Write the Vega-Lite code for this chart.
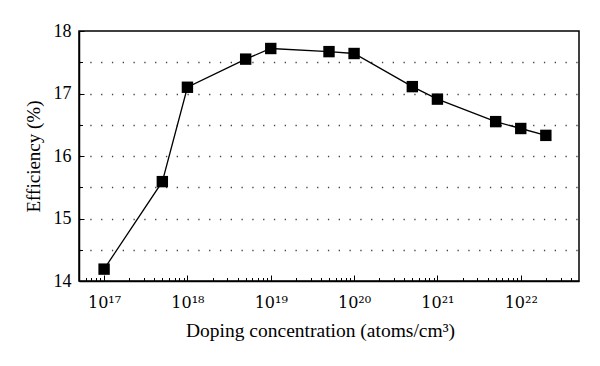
{
  "$schema": "https://vega.github.io/schema/vega-lite/v6.json",
  "width": 500,
  "height": 250,
  "autosize": "none",
  "padding": {"left": 79, "top": 31, "right": 21, "bottom": 85},
  "background": "white",
  "config": {
    "view": {"stroke": "black", "strokeWidth": 1.5},
    "font": "Liberation Serif"
  },
  "data": {
    "values": [
      {"conc": 1e17, "eff": 14.19},
      {"conc": 5e17, "eff": 15.59},
      {"conc": 1e18, "eff": 17.10},
      {"conc": 5e18, "eff": 17.55},
      {"conc": 1e19, "eff": 17.72},
      {"conc": 5e19, "eff": 17.67},
      {"conc": 1e20, "eff": 17.64},
      {"conc": 5e20, "eff": 17.11},
      {"conc": 1e21, "eff": 16.91},
      {"conc": 5e21, "eff": 16.55},
      {"conc": 1e22, "eff": 16.44},
      {"conc": 2e22, "eff": 16.33}
    ]
  },
  "encoding": {
    "x": {
      "field": "conc",
      "type": "quantitative",
      "scale": {"type": "log", "domain": [5e16, 5e22], "nice": false},
      "axis": {
        "title": "Doping concentration (atoms/cm³)",
        "titleFont": "Liberation Serif",
        "titleFontSize": 19.5,
        "titleFontWeight": "normal",
        "titleColor": "black",
        "titlePadding": 9,
        "titleX": 241,
        "titleAnchor": "start",
        "titleAlign": "center",
        "labelFont": "DejaVu Serif",
        "labelFontSize": 16,
        "labelColor": "black",
        "labelPadding": 19,
        "labelFlush": false,
        "labelOverlap": false,
        "domainColor": "black",
        "domainWidth": 1.5,
        "tickColor": "black",
        "tickWidth": 1,
        "grid": false,
        "values": [6e16, 7e16, 8e16, 9e16,
          1e17, 2e17, 3e17, 4e17, 5e17, 6e17, 7e17, 8e17, 9e17,
          1e18, 2e18, 3e18, 4e18, 5e18, 6e18, 7e18, 8e18, 9e18,
          1e19, 2e19, 3e19, 4e19, 5e19, 6e19, 7e19, 8e19, 9e19,
          1e20, 2e20, 3e20, 4e20, 5e20, 6e20, 7e20, 8e20, 9e20,
          1e21, 2e21, 3e21, 4e21, 5e21, 6e21, 7e21, 8e21, 9e21,
          1e22, 2e22, 3e22, 4e22],
        "labelExpr": "datum.value == 1e17 ? '10¹⁷' : datum.value == 1e18 ? '10¹⁸' : datum.value == 1e19 ? '10¹⁹' : datum.value == 1e20 ? '10²⁰' : datum.value == 1e21 ? '10²¹' : datum.value == 1e22 ? '10²²' : ''",
        "tickSize": {
          "condition": {"test": "datum.value == 1e17 || datum.value == 1e18 || datum.value == 1e19 || datum.value == 1e20 || datum.value == 1e21 || datum.value == 1e22", "value": -6},
          "value": -3.5
        }
      }
    },
    "y": {
      "field": "eff",
      "type": "quantitative",
      "scale": {"domain": [14, 18], "nice": false, "zero": false},
      "axis": {
        "title": "Efficiency (%)",
        "titleFont": "Liberation Serif",
        "titleFontSize": 19,
        "titleFontWeight": "normal",
        "titleColor": "black",
        "titlePadding": 10,
        "labelFont": "Liberation Serif",
        "labelFontSize": 18,
        "labelColor": "black",
        "labelPadding": 13,
        "labelFlush": false,
        "domainColor": "black",
        "domainWidth": 1.5,
        "tickColor": "black",
        "values": [14, 14.5, 15, 15.5, 16, 16.5, 17, 17.5, 18],
        "labelExpr": "datum.value % 1 == 0 ? datum.value : ''",
        "tickSize": {"condition": {"test": "datum.value % 1 == 0", "value": -5}, "value": -3.5},
        "grid": true,
        "gridColor": "#444",
        "gridWidth": 1.3,
        "gridDash": [1.3, 9.5],
        "gridOpacity": {"condition": {"test": "datum.value == 14 || datum.value == 18", "value": 0}, "value": 1}
      }
    }
  },
  "layer": [
    {"mark": {"type": "line", "color": "black", "strokeWidth": 1.3}},
    {"mark": {"type": "point", "shape": "square", "filled": true, "color": "black", "size": 130, "opacity": 1}}
  ]
}
